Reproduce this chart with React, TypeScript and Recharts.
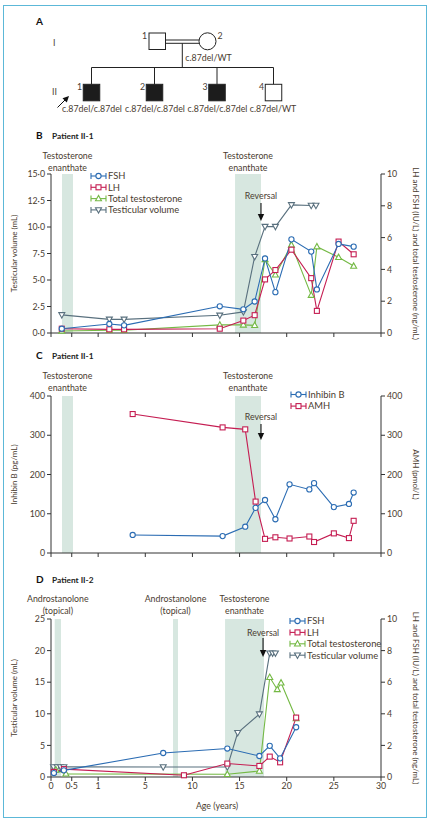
import React from 'react';
import { LineChart, Line, XAxis, YAxis, ReferenceArea, ReferenceDot } from 'recharts';

const TEXT = '#4a3c30';
const AXIS = '#333';
const BAND = '#d7e7e0';
const FONT = 'Lato, "Open Sans", sans-serif';

const FSH_C = '#2b6cb3';
const LH_C = '#c51d52';
const T_C = '#74b944';
const VOL_C = '#59707e';

// broken age axis: 0-1 stretched, 1-5 squeezed, then 5 years per step
const AGE_BREAKS = [0, 0.5, 1, 5, 30];
const POS_BREAKS = [0, 0.44, 1, 2, 7];
const AGE_TICKS = [0, 0.5, 1, 5, 10, 15, 20, 25, 30];
const AGE_TICK_LABELS = ['0', '0·5', '1', '5', '10', '15', '20', '25', '30'];

// panel B - patient II-1
const bAges = [0.26, 1.95, 3.2, 12.9, 15.4, 16.6, 17.7, 18.8, 20.5, 22.6, 23.2, 25.5, 27.1];
const bFsh = [0.27, 0.57, 0.48, 1.68, 1.49, 1.98, 4.69, 2.57, 5.89, 5.12, 2.74, 5.6, 5.43];
const bLh = [0.27, 0.23, 0.23, 0.27, 0.78, 1.12, 3.37, 3.96, 5.24, 3.45, 1.39, 5.75, 4.95];
const bTesto = [0.13, 0.17, 0.17, 0.51, 0.51, 0.48, 4.63, 3.66, 5.54, 2.38, 5.43, 4.76, 4.21];
const bVolAges = [0.26, 1.95, 3.2, 12.9, 15.4, 16.6, 17.7, 18.8, 20.5, 22.6, 23.1];
const bVol = [1.71, 1.29, 1.29, 1.67, 1.99, 7.2, 10.04, 10.04, 12.09, 12.03, 12.03];

// panel C - patient II-1
const cAges = [3.93, 13.2, 15.6, 16.7, 17.7, 18.8, 20.3, 22.4, 22.9, 25.0, 26.6, 27.1];
const cInhibin = [46, 43, 67, 115, 135, 86, 175, 162, 178, 117, 125, 154];
const cAmh = [354, 320, 315, 131, 36, 40, 37, 42, 28, 50, 38, 82];

// panel D - patient II-2
const dFshAges = [0.07, 0.31, 6.9, 13.7, 17.1, 18.2, 19.3, 21.0];
const dFsh = [0.25, 0.42, 1.52, 1.8, 1.33, 1.97, 1.18, 3.15];
const dLhAges = [0.07, 0.31, 9.1, 13.7, 17.1, 18.2, 19.3, 21.0];
const dLh = [0.32, 0.5, 0.11, 0.85, 0.7, 1.29, 0.93, 3.76];
const dTestoAges = [0.12, 0.36, 13.7, 17.1, 18.2, 19.0, 19.4, 21.0];
const dTesto = [0.45, 0.2, 0.17, 0.38, 6.31, 5.54, 5.96, 3.7];
const dVolAges = [0.06, 0.15, 0.23, 0.31, 6.9, 13.7, 14.8, 17.1, 18.2, 18.5, 18.8];
const dVol = [1.6, 1.6, 1.6, 1.6, 1.58, 1.58, 7.0, 9.95, 19.6, 19.6, 19.6];

function agePos(a: number) {
  for (let i = 1; i < AGE_BREAKS.length; i++) {
    if (a <= AGE_BREAKS[i]) {
      const a0 = AGE_BREAKS[i - 1], a1 = AGE_BREAKS[i];
      const p0 = POS_BREAKS[i - 1], p1 = POS_BREAKS[i];
      return p0 + ((a - a0) / (a1 - a0)) * (p1 - p0);
    }
  }
  return POS_BREAKS[POS_BREAKS.length - 1];
}

const toPts = (ages: number[], vals: number[]) => ages.map((a, i) => ({ x: agePos(a), y: vals[i] }));
const dotFmt = (v: number) => v.toFixed(1).replace('.', '·');

type Shape = 'circle' | 'square' | 'up' | 'down';

function Marker({ shape, cx, cy, color }: { shape: Shape; cx: number; cy: number; color: string }) {
  const common = { fill: '#fff', stroke: color, strokeWidth: 1.1 };
  if (shape === 'circle') return <circle cx={cx} cy={cy} r={2.6} {...common} />;
  if (shape === 'square') return <rect x={cx - 2.5} y={cy - 2.5} width={5} height={5} {...common} />;
  if (shape === 'up') return <polygon points={`${cx},${cy - 3.2} ${cx - 3},${cy + 2.2} ${cx + 3},${cy + 2.2}`} {...common} />;
  return <polygon points={`${cx},${cy + 3.2} ${cx - 3},${cy - 2.2} ${cx + 3},${cy - 2.2}`} {...common} />;
}

function series(key: string, pts: { x: number; y: number }[], color: string, shape: Shape, axis: string) {
  return (
    <Line
      key={key}
      data={pts}
      dataKey="y"
      yAxisId={axis}
      type="linear"
      stroke={color}
      strokeWidth={1.1}
      isAnimationActive={false}
      legendType="none"
      dot={(p: any) =>
        p.cx == null ? <g key={p.index} /> : <Marker key={p.index} shape={shape} cx={p.cx} cy={p.cy} color={color} />
      }
    />
  );
}

const bandLabel = (lines: string[], up: number) => (props: any) => {
  const vb = props.viewBox;
  const cx = vb.x + vb.width / 2;
  return (
    <text x={cx} y={vb.y - up} textAnchor="middle" fontSize={8.8} fill={TEXT}>
      {lines.map((l, i) => (
        <tspan key={i} x={cx} dy={i === 0 ? 0 : 12}>{l}</tspan>
      ))}
    </text>
  );
};

function band(key: string, a0: number, a1: number, lines: string[], up: number) {
  return (
    <ReferenceArea
      key={key}
      yAxisId="L"
      x1={agePos(a0)}
      x2={agePos(a1)}
      fill={BAND}
      fillOpacity={1}
      stroke="none"
      label={bandLabel(lines, up)}
    />
  );
}

function reversal(age: number, y: number, len: number, gap = 4) {
  return (
    <ReferenceDot
      key="rev"
      yAxisId="L"
      x={agePos(age)}
      y={y}
      r={0}
      shape={(p: any) => (
        <g>
          <text x={p.cx} y={p.cy - len - gap} textAnchor="middle" fontSize={8.8} fill={TEXT}>Reversal</text>
          <line x1={p.cx} y1={p.cy - len} x2={p.cx} y2={p.cy - 5} stroke="#111" strokeWidth={1.1} />
          <polygon points={`${p.cx - 3.2},${p.cy - 7} ${p.cx + 3.2},${p.cy - 7} ${p.cx},${p.cy}`} fill="#111" />
        </g>
      )}
    />
  );
}

const yLabel = (text: string, side: 'L' | 'R') => (props: any) => {
  const vb = props.viewBox;
  const cy = vb.y + vb.height / 2;
  const x = side === 'L' ? 17 : 413;
  return (
    <text x={x} y={cy} textAnchor="middle" fontSize={8} fill={TEXT} transform={`rotate(${side === 'L' ? -90 : 90} ${x} ${cy})`}>
      {text}
    </text>
  );
};

const MT = 60;
const TICK = { fill: TEXT, fontSize: 8.8 };

function axes(opts: {
  leftDomain: number[]; leftTicks: number[]; leftFmt?: (v: number) => string; leftLabel: string;
  rightDomain: number[]; rightTicks: number[]; rightLabel: string; ageLabels: boolean; xh: number;
}) {
  return [
    <XAxis
      key="x"
      type="number"
      dataKey="x"
      domain={[0, 7]}
      ticks={AGE_TICKS.map(agePos)}
      interval={0}
      tickFormatter={(v: number) => {
        if (!opts.ageLabels) return '';
        const i = AGE_TICKS.findIndex((a) => Math.abs(agePos(a) - v) < 1e-6);
        return i >= 0 ? AGE_TICK_LABELS[i] : '';
      }}
      height={opts.xh}
      tick={TICK}
      tickSize={4}
      tickMargin={2}
      stroke={AXIS}
      axisLine={{ stroke: AXIS }}
      tickLine={{ stroke: AXIS }}
      label={
        opts.ageLabels
          ? (p: any) => (
              <text x={217} y={p.viewBox.y + 32} textAnchor="middle" fontSize={8.8} fill={TEXT}>Age (years)</text>
            )
          : undefined
      }
    />,
    <YAxis
      key="L"
      yAxisId="L"
      orientation="left"
      width={51}
      domain={opts.leftDomain}
      ticks={opts.leftTicks}
      interval={0}
      tickFormatter={opts.leftFmt}
      tick={TICK}
      tickSize={4}
      tickMargin={2}
      axisLine={{ stroke: AXIS }}
      tickLine={{ stroke: AXIS }}
      label={yLabel(opts.leftLabel, 'L')}
    />,
    <YAxis
      key="R"
      yAxisId="R"
      orientation="right"
      width={52}
      domain={opts.rightDomain}
      ticks={opts.rightTicks}
      interval={0}
      tick={TICK}
      tickSize={4}
      tickMargin={2}
      axisLine={{ stroke: AXIS }}
      tickLine={{ stroke: AXIS }}
      label={yLabel(opts.rightLabel, 'R')}
    />,
  ];
}

function Legend({ x, y, step, items }: { x: number; y: number; step: number; items: { name: string; color: string; shape: Shape }[] }) {
  return (
    <g>
      {items.map((it, i) => {
        const cy = y + i * step;
        return (
          <g key={it.name}>
            <line x1={x} y1={cy} x2={x + 15} y2={cy} stroke={it.color} strokeWidth={1.1} />
            <line x1={x} y1={cy - 3} x2={x} y2={cy + 3} stroke={it.color} strokeWidth={1.1} />
            <line x1={x + 15} y1={cy - 3} x2={x + 15} y2={cy + 3} stroke={it.color} strokeWidth={1.1} />
            <Marker shape={it.shape} cx={x + 7.5} cy={cy} color={it.color} />
            <text x={x + 17} y={cy + 3.3} fontSize={9.4} fill={TEXT}>{it.name}</text>
          </g>
        );
      })}
    </g>
  );
}

const HORMONES = [
  { name: 'FSH', color: FSH_C, shape: 'circle' as Shape },
  { name: 'LH', color: LH_C, shape: 'square' as Shape },
  { name: 'Total testosterone', color: T_C, shape: 'up' as Shape },
  { name: 'Testicular volume', color: VOL_C, shape: 'down' as Shape },
];

function Pedigree() {
  const ink = '#222';
  const sq = (x: number, y: number, filled: boolean, key: string) => (
    <rect key={key} x={x} y={y} width={16.5} height={16.5} fill={filled ? '#1c1c1c' : '#fff'} stroke={ink} strokeWidth={1} />
  );
  const kids = [
    { x: 91.5, filled: true, n: '1', g: 'c.87del/c.87del', gx: 92 },
    { x: 154.5, filled: true, n: '2', g: 'c.87del/c.87del', gx: 155 },
    { x: 217, filled: true, n: '3', g: 'c.87del/c.87del', gx: 217.5 },
    { x: 273.5, filled: false, n: '4', g: 'c.87del/WT', gx: 273 },
  ];
  return (
    <g fontSize={8.8} fill={TEXT}>
      <text x={36} y={25} fontSize={10} fontWeight={700} fill="#111">A</text>
      <text x={53} y={46}>I</text>
      <text x={52} y={95}>II</text>
      {sq(149, 33, false, 'f')}
      <text x={142} y={39}>1</text>
      <circle cx={207.5} cy={41.3} r={8.5} fill="#fff" stroke={ink} />
      <text x={217.5} y={39}>2</text>
      <line x1={165.5} y1={40} x2={199} y2={40} stroke={ink} />
      <line x1={165.5} y1={43.3} x2={199} y2={43.3} stroke={ink} />
      <line x1={182.3} y1={43.3} x2={182.3} y2={67.5} stroke={ink} />
      <text x={208.5} y={61} textAnchor="middle">c.87del/WT</text>
      <line x1={91.5} y1={67.5} x2={273.5} y2={67.5} stroke={ink} />
      {kids.map((k) => (
        <g key={k.n}>
          <line x1={k.x} y1={67.5} x2={k.x} y2={84.5} stroke={ink} />
          {sq(k.x - 8.25, 84.3, k.filled, 'k' + k.n)}
          <text x={k.x - 14.5} y={90}>{k.n}</text>
          <text x={k.gx} y={112} textAnchor="middle">{k.g}</text>
        </g>
      ))}
      <line x1={57.5} y1={107.5} x2={66} y2={99} stroke="#111" strokeWidth={1} />
      <polygon points="69,96 62.5,98.2 66.8,102.5" fill="#111" />
    </g>
  );
}

function Title({ y, letter, text }: { y: number; letter: string; text: string }) {
  return (
    <g>
      <text x={36} y={y} fontSize={10} fontWeight={700} fill="#111">{letter}</text>
      <text x={52} y={y} fontSize={8.3} fontWeight={700} fill="#222">{text}</text>
    </g>
  );
}

export default function App() {
  const bH = 159, cH = 157, dH = 158;
  return (
    <div style={{ position: 'absolute', left: 0, top: 0, width: 433, height: 826, background: '#fff', fontFamily: FONT }}>
      <svg width={433} height={826} style={{ position: 'absolute', left: 0, top: 0 }}>
        <rect x={3.5} y={5.5} width={423} height={812} fill="none" stroke="#5cb8d8" strokeWidth={1} />
        <Pedigree />
        <Title y={139} letter="B" text="Patient II-1" />
        <Title y={359} letter="C" text="Patient II-1" />
        <Title y={583} letter="D" text="Patient II-2" />
        <Legend x={91} y={176} step={11.3} items={HORMONES} />
        <Legend x={291} y={394.5} step={11.6} items={HORMONES.slice(0, 2).map((h, i) => ({ ...h, name: i === 0 ? 'Inhibin B' : 'AMH' }))} />
        <Legend x={290} y={621} step={11.4} items={HORMONES} />
      </svg>

      <div style={{ position: 'absolute', left: 0, top: 174 - MT }}>
        <LineChart width={433} height={MT + bH + 12} margin={{ top: MT, right: 0, left: 0, bottom: 2 }}>
          {axes({
            leftDomain: [0, 15], leftTicks: [0, 2.5, 5, 7.5, 10, 12.5, 15], leftFmt: dotFmt,
            leftLabel: 'Testicular volume (mL)',
            rightDomain: [0, 10], rightTicks: [0, 2, 4, 6, 8, 10],
            rightLabel: 'LH and FSH (IU/L) and total testosterone (ng/mL)', ageLabels: false, xh: 10,
          })}
          {band('b1', 0.265, 0.524, ['Testosterone', 'enanthate'], 15)}
          {band('b2', 14.52, 17.27, ['Testosterone', 'enanthate'], 15)}
          {series('vol', toPts(bVolAges, bVol), VOL_C, 'down', 'L')}
          {series('t', toPts(bAges, bTesto), T_C, 'up', 'R')}
          {series('lh', toPts(bAges, bLh), LH_C, 'square', 'R')}
          {series('fsh', toPts(bAges, bFsh), FSH_C, 'circle', 'R')}
          {reversal(17.27, 10.57, 18)}
        </LineChart>
      </div>

      <div style={{ position: 'absolute', left: 0, top: 396 - MT }}>
        <LineChart width={433} height={MT + cH + 12} margin={{ top: MT, right: 0, left: 0, bottom: 2 }}>
          {axes({
            leftDomain: [0, 400], leftTicks: [0, 100, 200, 300, 400], leftLabel: 'Inhibin B (pg/mL)',
            rightDomain: [0, 400], rightTicks: [0, 100, 200, 300, 400], rightLabel: 'AMH (pmol/L)',
            ageLabels: false, xh: 10,
          })}
          {band('c1', 0.265, 0.524, ['Testosterone', 'enanthate'], 17)}
          {band('c2', 14.52, 17.27, ['Testosterone', 'enanthate'], 17)}
          {series('amh', toPts(cAges, cAmh), LH_C, 'square', 'R')}
          {series('inh', toPts(cAges, cInhibin), FSH_C, 'circle', 'L')}
          {reversal(17.27, 288, 16)}
        </LineChart>
      </div>

      <div style={{ position: 'absolute', left: 0, top: 619 - MT }}>
        <LineChart width={433} height={MT + dH + 38} margin={{ top: MT, right: 0, left: 0, bottom: 2 }}>
          {axes({
            leftDomain: [0, 25], leftTicks: [0, 5, 10, 15, 20, 25], leftLabel: 'Testicular volume (mL)',
            rightDomain: [0, 10], rightTicks: [0, 2, 4, 6, 8, 10],
            rightLabel: 'LH and FSH (IU/L) and total testosterone (ng/mL)', ageLabels: true, xh: 36,
          })}
          {band('d1', 0.089, 0.241, ['Androstanolone', '(topical)'], 17)}
          {band('d2', 7.94, 8.47, ['Androstanolone', '(topical)'], 17)}
          {band('d3', 13.46, 17.59, ['Testosterone', 'enanthate'], 17)}
          {series('vol', toPts(dVolAges, dVol), VOL_C, 'down', 'L')}
          {series('t', toPts(dTestoAges, dTesto), T_C, 'up', 'R')}
          {series('lh', toPts(dLhAges, dLh), LH_C, 'square', 'R')}
          {series('fsh', toPts(dFshAges, dFsh), FSH_C, 'circle', 'R')}
          {reversal(17.49, 19.0, 19, 2)}
        </LineChart>
      </div>
    </div>
  );
}
